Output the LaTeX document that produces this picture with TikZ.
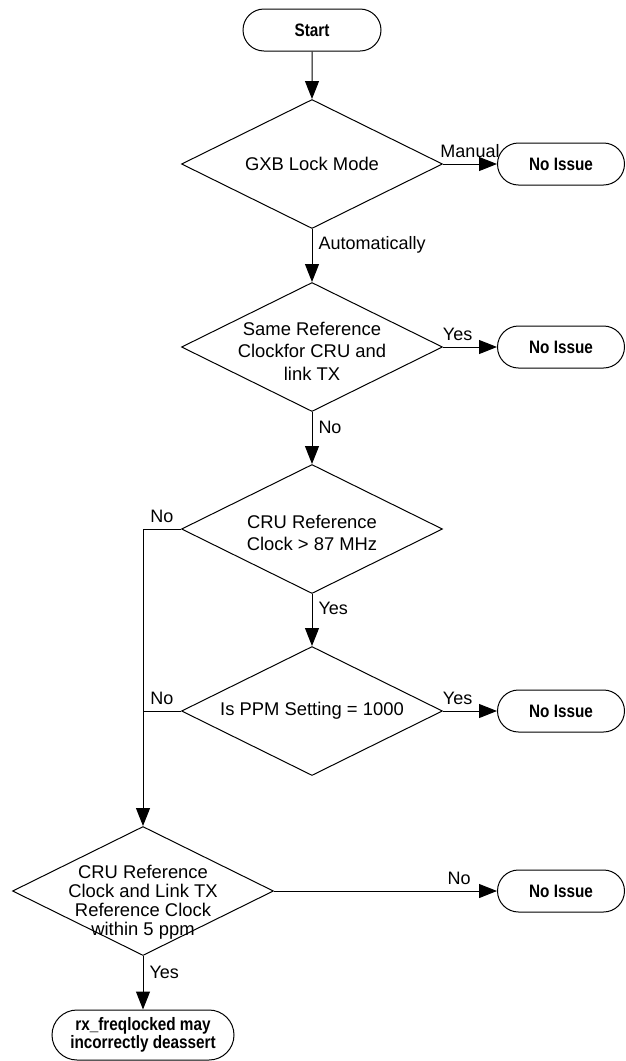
\documentclass[tikz,border=0pt]{standalone}
\usepackage{fontspec}
\setmainfont{Liberation Sans}
\newfontfamily\condfont[FakeStretch=0.85]{Liberation Sans}
\usepackage{tikz}
\usetikzlibrary{shapes.geometric}
\usetikzlibrary{shapes.misc}
\usetikzlibrary{arrows.meta}
\tikzset{
  decision/.style={diamond, draw, line width=0.5pt, inner sep=0pt,
    minimum width=130.5pt, minimum height=64.5pt},
  dlabel/.style={align=center, inner sep=0pt,
    font=\fontsize{9.2}{11.25}\selectfont},
  terminal/.style={rounded rectangle, draw, line width=0.5pt, inner sep=0pt,
    minimum width=63.5pt, minimum height=21pt, align=center,
    font=\condfont\bfseries\fontsize{9}{8.8}\selectfont},
  flow/.style={line width=0.5pt, -{Triangle[length=9pt,width=7pt]}},
  link/.style={line width=0.5pt},
  elabel/.style={inner sep=3pt, font=\fontsize{9}{10}\selectfont}
}
\begin{document}
\begin{tikzpicture}[x=0.5pt,y=-0.5pt]
\useasboundingbox (0,0) rectangle (626,1061);
% Start and the chain of decisions
\node[terminal, minimum width=69pt] (start) at (312,30) {Start};
\node[decision, label={[dlabel]center:GXB Lock Mode}] (lock) at (312,164) {};
\node[decision, label={[dlabel, yshift=-2pt]center:{Same Reference\\Clockfor CRU and\\link TX}}] (same) at (312,347) {};
\node[decision, label={[dlabel, yshift=-2pt]center:{CRU Reference\\Clock > 87 MHz}}] (cru) at (312,529) {};
\node[decision, label={[dlabel]center:{Is PPM Setting = 1000}}] (ppm) at (312,711) {};
\node[decision, label={[dlabel, yshift=-5.5pt, font=\fontsize{9.2}{9.5}\selectfont]center:{CRU Reference\\Clock and Link TX\\Reference Clock\\within 5 ppm}}] (within) at (143,891) {};
\node[terminal, minimum width=91pt, minimum height=25pt] (deassert) at (143,1035) {rx\_freqlocked may\\incorrectly deassert};
% No Issue exits on the right
\foreach \n/\y in {1/164,2/347,3/711,4/891}
  \node[terminal] (ok\n) at (561,\y) {No Issue};
% Connectors
\draw[flow] (start) -- (lock);
\draw[flow] (lock) -- node[elabel, above] {Manual} (ok1);
\draw[flow] (lock) -- node[elabel, right, pos=0.3] {Automatically} (same);
\draw[flow] (same) -- node[elabel, above, pos=0.27] {Yes} (ok2);
\draw[flow] (same) -- node[elabel, right, pos=0.3] {No} (cru);
\draw[flow] (cru.west) -| node[elabel, above, pos=0.25] {No} (within.north);
\draw[flow] (cru) -- node[elabel, right, pos=0.27] {Yes} (ppm);
\draw[link] (ppm.west) -- node[elabel, above] {No} (ppm.west -| within.north);
\draw[flow] (ppm) -- node[elabel, above, pos=0.27] {Yes} (ok3);
\draw[flow] (within) -- node[elabel, above, pos=0.83] {No} (ok4);
\draw[flow] (within) -- node[elabel, right, pos=0.3] {Yes} (deassert);
\end{tikzpicture}
\end{document}
